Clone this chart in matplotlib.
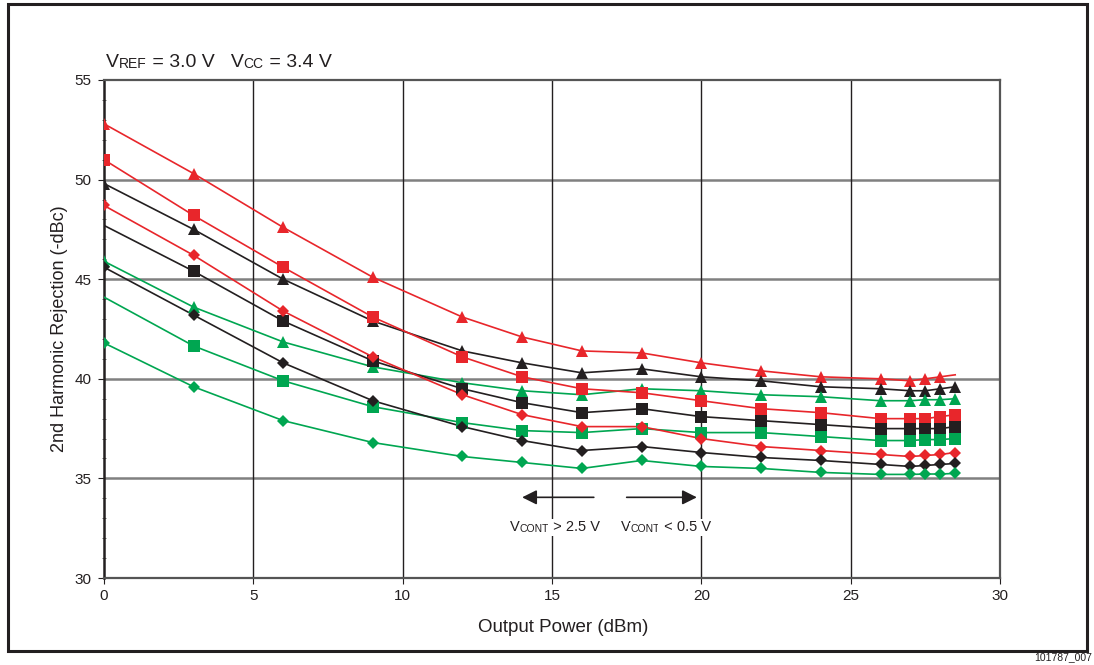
import matplotlib
matplotlib.use("Agg")
import matplotlib.pyplot as plt
from matplotlib.patches import Rectangle

plt.rcParams['font.family'] = ['Liberation Sans', 'DejaVu Sans']

# Output power (dBm) at which points were measured
x_pts = [0, 3, 6, 9, 12, 14, 16, 18, 20, 22, 24, 26, 27, 27.5, 28, 28.5]

# 2nd harmonic rejection (-dBc)
red_tri   = [52.8, 50.3, 47.6, 45.1, 43.1, 42.1, 41.4, 41.3, 40.8, 40.4, 40.1, 40.0, 39.9, 40.0, 40.1, 40.2]
black_tri = [49.8, 47.5, 45.0, 42.9, 41.4, 40.8, 40.3, 40.5, 40.1, 39.9, 39.6, 39.5, 39.4, 39.4, 39.5, 39.6]
red_sq    = [51.0, 48.2, 45.6, 43.1, 41.1, 40.1, 39.5, 39.3, 38.9, 38.5, 38.3, 38.0, 38.0, 38.0, 38.1, 38.2]
black_sq  = [47.7, 45.4, 42.9, 40.9, 39.5, 38.8, 38.3, 38.5, 38.1, 37.9, 37.7, 37.5, 37.5, 37.5, 37.5, 37.6]
red_dia   = [48.7, 46.2, 43.4, 41.1, 39.2, 38.2, 37.6, 37.6, 37.0, 36.6, 36.4, 36.2, 36.1, 36.15, 36.2, 36.3]
black_dia = [45.6, 43.2, 40.8, 38.9, 37.6, 36.9, 36.4, 36.6, 36.3, 36.05, 35.9, 35.7, 35.6, 35.65, 35.7, 35.75]
green_tri = [45.9, 43.6, 41.85, 40.6, 39.8, 39.4, 39.2, 39.5, 39.4, 39.2, 39.1, 38.9, 38.9, 38.95, 38.95, 39.0]
green_sq  = [44.1, 41.65, 39.9, 38.6, 37.8, 37.4, 37.3, 37.5, 37.3, 37.3, 37.1, 36.9, 36.9, 36.95, 36.95, 37.0]
green_dia = [41.8, 39.6, 37.9, 36.8, 36.1, 35.8, 35.5, 35.9, 35.6, 35.5, 35.3, 35.2, 35.2, 35.22, 35.22, 35.25]

RED = '#e8262b'
BLACK = '#231f20'
GREEN = '#00a651'

# (values, color, marker, size, indices of points with no marker drawn)
series = [
    (red_tri,   RED,   '^', 8.5, [15]),
    (black_tri, BLACK, '^', 8.5, []),
    (green_tri, GREEN, '^', 8.5, []),
    (red_sq,    RED,   's', 8,   []),
    (black_sq,  BLACK, 's', 8,   [0]),
    (green_sq,  GREEN, 's', 8,   [0]),
    (red_dia,   RED,   'D', 6,   []),
    (black_dia, BLACK, 'D', 6,   []),
    (green_dia, GREEN, 'D', 6,   []),
]

fig = plt.figure(figsize=(10.94, 6.65), dpi=100)
ax = fig.add_axes([104/1094, 1-578/665, (1000-104)/1094, (578-80)/665])

# outer frame
fig.patches.append(Rectangle((8/1094, 1-651/665), (1087-8)/1094, (651-4)/665,
                             transform=fig.transFigure, fill=False,
                             edgecolor='#231f20', linewidth=2.2))

ax.set_xlim(0, 30)
ax.set_ylim(30, 55)
ax.set_xticks(range(0, 31, 5))
ax.set_yticks(range(30, 56, 5))
ax.set_yticks(range(30, 56, 1), minor=True)
ax.tick_params(axis='both', which='major', labelsize=11, length=4, color='#231f20',
               labelcolor='#231f20')
ax.tick_params(axis='y', which='major', pad=5)
ax.tick_params(axis='x', which='major', pad=4)
ax.tick_params(axis='y', which='minor', length=3, direction='inout', color='#555555')
ax.tick_params(axis='x', which='minor', length=0)

for yv in [35, 40, 45, 50]:
    ax.axhline(yv, color='#808080', linewidth=1.8, zorder=1)
for xv in [5, 10, 15, 20, 25]:
    ax.axvline(xv, color='#231f20', linewidth=1.0, zorder=1)

for sp in ['top', 'right', 'bottom']:
    ax.spines[sp].set_color('#555555')
    ax.spines[sp].set_linewidth(1.6)
ax.spines['left'].set_color('#231f20')
ax.spines['left'].set_linewidth(1.8)

for vals, col, mk, ms, skip in series:
    ax.plot(x_pts, vals, color=col, linewidth=1.2, zorder=3)
    mx = [x for i, x in enumerate(x_pts) if i not in skip]
    my = [v for i, v in enumerate(vals) if i not in skip]
    ax.plot(mx, my, linestyle='none', marker=mk, markersize=ms, color=col,
            markeredgewidth=0, zorder=4)


def chain_text(first, pieces, bbox=None):
    """Place pieces of text one after another, starting after `first` text artist."""
    prev = first
    for s, size in pieces:
        prev = ax.annotate(s, xy=(1, 0), xycoords=prev, ha='left', va='bottom',
                           fontsize=size, color='#231f20', bbox=bbox, zorder=6,
                           annotation_clip=False)
    return prev


# arrows and annotations
ax.annotate('', xy=(14.0, 34.05), xytext=(16.4, 34.05),
            arrowprops=dict(arrowstyle='-|>', color='#231f20', lw=1.2,
                            mutation_scale=22, shrinkA=0, shrinkB=0), zorder=5)
ax.annotate('', xy=(19.85, 34.05), xytext=(17.5, 34.05),
            arrowprops=dict(arrowstyle='-|>', color='#231f20', lw=1.2,
                            mutation_scale=22, shrinkA=0, shrinkB=0), zorder=5)
wb = dict(facecolor='white', edgecolor='none', pad=1.0)
t1 = ax.text(13.6, 32.2, 'V', ha='left', va='bottom', fontsize=10.5,
             color='#231f20', bbox=wb, zorder=6)
chain_text(t1, [('CONT', 7.5), (' > 2.5 V', 10.5)], bbox=wb)
t2 = ax.text(17.3, 32.2, 'V', ha='left', va='bottom', fontsize=10.5,
             color='#231f20', bbox=wb, zorder=6)
chain_text(t2, [('CONT', 7.5), (' < 0.5 V', 10.5)], bbox=wb)

# condition text above the plot
t0 = fig.text(106/1094, 1-71/665, 'V', ha='left', va='bottom', fontsize=14,
              color='#231f20')
chain_text(t0, [('REF', 10), (' = 3.0 V   V', 14), ('CC', 10), (' = 3.4 V', 14)])

ax.set_xlabel('Output Power (dBm)', fontsize=13.5, color='#231f20')
ax.xaxis.set_label_coords(0.513, -0.082)
ax.set_ylabel('2nd Harmonic Rejection (-dBc)', fontsize=13, color='#231f20')
ax.yaxis.set_label_coords(-0.04, 0.5)

fig.text(1092/1094, 1-657/665, '101787_007', fontsize=7.5, ha='right', va='center',
         color='#231f20')

fig.savefig('out.png', dpi=100)
